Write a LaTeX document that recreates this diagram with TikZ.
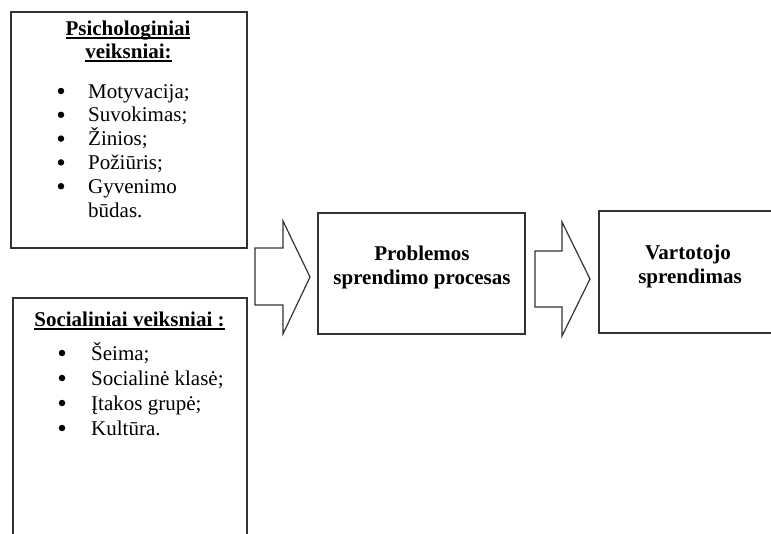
\documentclass[tikz,border=0pt]{standalone}
\usepackage{fontspec}
\setmainfont{Liberation Serif}
\newcommand{\undl}[1]{\setbox0\hbox{#1}\rlap{\rule[-3.5pt]{\wd0}{1.8pt}}\box0}
\begin{document}
\begin{tikzpicture}
[
	x=1pt,y=-1pt,
	bx/.style={rectangle,draw=black!80,line width=1.2pt,inner sep=0pt},
	hd/.style={font=\fontsize{21}{24}\selectfont\bfseries,inner sep=0pt,anchor=base},
	it/.style={font=\fontsize{21}{24}\selectfont,inner sep=0pt,anchor=base west},
	bl/.style={circle,fill=black,inner sep=0pt,minimum size=6.5pt},
	ar/.style={draw=black!80,line width=1.2pt,line join=miter}
]

\useasboundingbox (0,0) rectangle (771,533);
\clip (0,0) rectangle (771,533);

% boxes
\node[bx,minimum width=236pt,minimum height=236pt] (psy) at (129,130) {};
\node[bx,minimum width=234pt,minimum height=262pt] (soc) at (130,429) {};
\node[bx,minimum width=207pt,minimum height=121pt] (proc) at (421.5,273.5) {};
\node[bx,minimum width=182pt,minimum height=122pt] (dec) at (690,272) {};

% psychological factors
\node[hd] (psyt1) at (128,35) {\undl{Psichologiniai}};
\node[hd] (psyt2) at (128.5,58) {\undl{veiksniai:}};
\foreach \t [count=\i] in {Motyvacija;,Suvokimas;,Žinios;,Požiūris;,Gyvenimo}
{
\node[bl] (pb\i) at (61,{91+23.8*(\i-1)}) {};
\node[it] (p\i) at (88,{98+23.8*(\i-1)}) {\t};
}
\node[it] (p6) at (88,217) {būdas.};

% social factors
\node[hd] (soct) at (129.5,326) {\undl{Socialiniai veiksniai :}};
\foreach \t [count=\i] in {Šeima;,Socialinė klasė;,Įtakos grupė;,Kultūra.}
{
\node[bl] (sb\i) at (62,{353+25*(\i-1)}) {};
\node[it] (s\i) at (91,{360+25*(\i-1)}) {\t};
}

% process and decision
\node[hd] (proc1) at (422,260.5) {Problemos};
\node[hd] (proc2) at (422,284) {sprendimo procesas};
\node[hd] (dec1) at (688,259) {Vartotojo};
\node[hd] (dec2) at (690,283) {sprendimas};

% block arrows
\draw[ar] (255,248) -- (283,248) -- (283,221) -- (310,277) -- (283,334) -- (283,305) -- (255,305) -- cycle;
\draw[ar] (535,251) -- (562,251) -- (562,222) -- (590,279) -- (562,336) -- (562,307) -- (535,307) -- cycle;

\end{tikzpicture}
\end{document}
